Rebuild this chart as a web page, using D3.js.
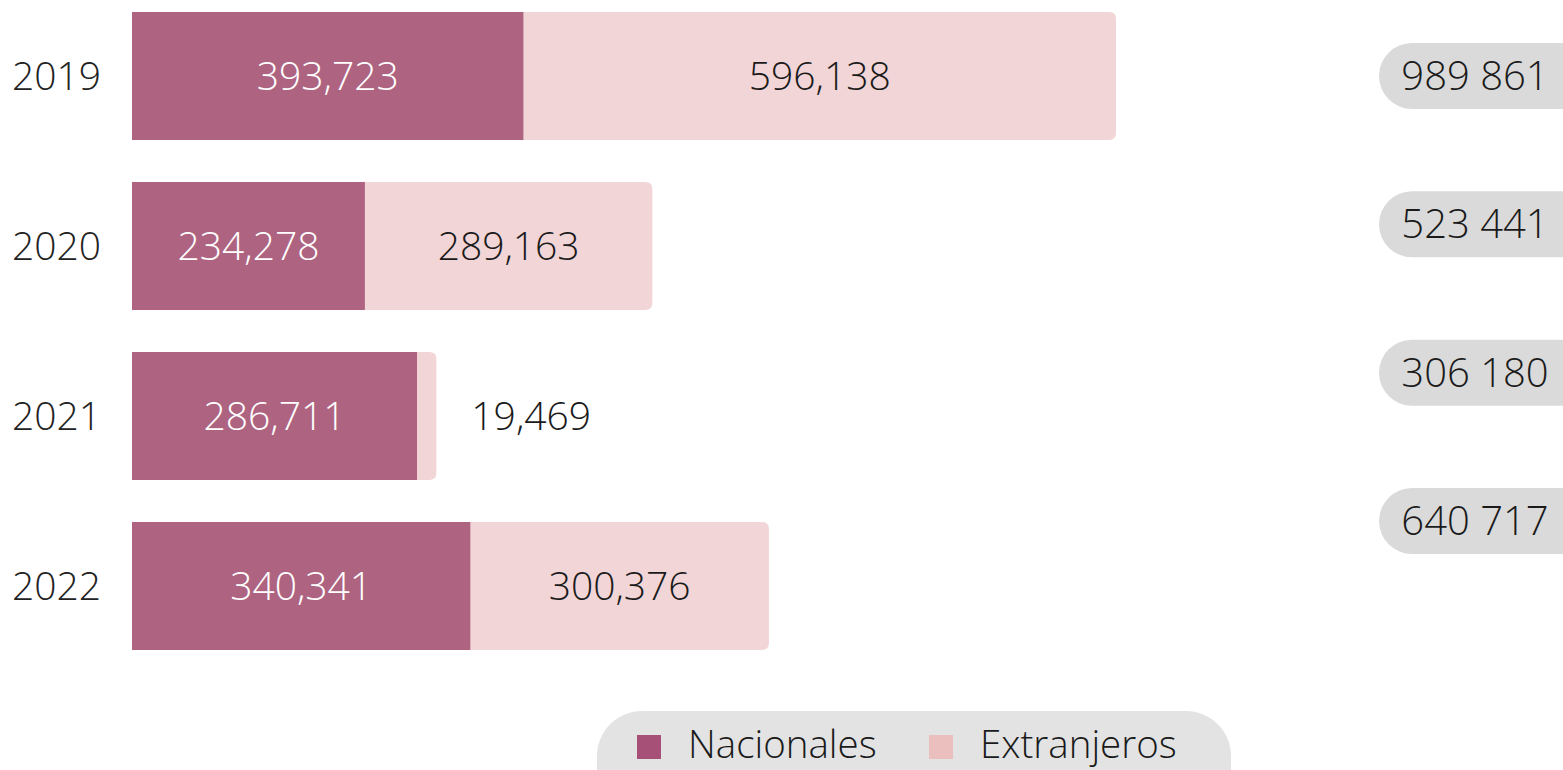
<!DOCTYPE html>
<html><head><meta charset="utf-8">
<script src="https://cdn.jsdelivr.net/npm/d3@7"></script>
<style>
html,body{margin:0;padding:0;background:#fff;overflow:hidden;}
svg{display:block;font-family:"Open Sans",sans-serif;font-weight:300;}
</style></head>
<body><svg id="c" width="1563" height="770"></svg>
<script>
const years = ["2019","2020","2021","2022"];
const nacionales = [393723, 234278, 286711, 340341];
const extranjeros = [596138, 289163, 19469, 300376];
const totals = [989861, 523441, 306180, 640717];
const seriesNames = ["Nacionales","Extranjeros"];
const barColors = ["#ae6481","#f2d5d7"];
const legendColors = ["#a65077","#ecbfbf"];

const svg = d3.select("#c");
const fmt = d3.format(",");
const fmtSpace = v => d3.format(",")(v).replace(/,/g," ");

const x = d3.scaleLinear().domain([0, d3.max(totals)]).range([132, 1116]);
const y = d3.scaleBand().domain(years).range([12, 650]).paddingInner(0.247).paddingOuter(0);
const yPill = d3.scalePoint().domain(years).range([76, 521]);

const rows = years.map((yr,i)=>({yr, n:nacionales[i], e:extranjeros[i], t:totals[i]}));

const r = 7;
function rightRounded(x0,y0,w,h,rad){
  rad = Math.min(rad, w);
  return `M${x0},${y0}H${x0+w-rad}Q${x0+w},${y0} ${x0+w},${y0+rad}V${y0+h-rad}Q${x0+w},${y0+h} ${x0+w-rad},${y0+h}H${x0}Z`;
}
svg.append("g").selectAll("path").data(rows).join("path")
  .attr("d", d => rightRounded(x(d.n)-1, y(d.yr), x(d.n+d.e)-x(d.n)+1, y.bandwidth(), r))
  .attr("fill", barColors[1]);
svg.append("g").selectAll("rect").data(rows).join("rect")
  .attr("x", x(0)).attr("y", d=>y(d.yr))
  .attr("width", d=>x(d.n)-x(0)).attr("height", y.bandwidth())
  .attr("fill", barColors[0]);

const fs = 39;
svg.append("g").selectAll("text").data(rows).join("text")
  .attr("x", 101).attr("y", d=>y(d.yr)+y.bandwidth()/2)
  .attr("dy","0.35em").attr("text-anchor","end")
  .attr("font-size", fs).attr("fill","#222").text(d=>d.yr);

svg.append("g").selectAll("text").data(rows).join("text")
  .attr("x", d=>(x(0)+x(d.n))/2).attr("y", d=>y(d.yr)+y.bandwidth()/2)
  .attr("dy","0.35em").attr("text-anchor","middle")
  .attr("font-size", fs).attr("fill","#fff").text(d=>fmt(d.n));

svg.append("g").selectAll("text").data(rows).join("text")
  .attr("x", d=>{
    const w = x(d.n+d.e)-x(d.n);
    return w < 60 ? x(d.n+d.e)+35 : (x(d.n)+x(d.n+d.e))/2;
  })
  .attr("text-anchor", d=> (x(d.n+d.e)-x(d.n))<60 ? "start":"middle")
  .attr("y", d=>y(d.yr)+y.bandwidth()/2)
  .attr("dy","0.35em")
  .attr("font-size", fs).attr("fill","#1a1a1a").text(d=>fmt(d.e));

const pg = svg.append("g");
pg.selectAll("rect").data(rows).join("rect")
  .attr("x", 1379).attr("y", d=>yPill(d.yr)-33)
  .attr("width", 230).attr("height", 66).attr("rx",33)
  .attr("fill","#dadada");
pg.selectAll("text").data(rows).join("text")
  .attr("x", 1475).attr("y", d=>yPill(d.yr))
  .attr("dy","0.35em").attr("text-anchor","middle")
  .attr("font-size", fs + 1).attr("fill","#1a1a1a").text(d=>fmtSpace(d.t));

const lg = svg.append("g");
lg.append("rect").attr("x",597).attr("y",711).attr("width",634).attr("height",110).attr("rx",45).attr("fill","#e3e3e3");
const legX = [637, 929];
seriesNames.forEach((s,i)=>{
  lg.append("rect").attr("x",legX[i]).attr("y",735).attr("width",24).attr("height",24).attr("fill",legendColors[i]);
  lg.append("text").attr("x",legX[i]+51).attr("y",745).attr("dy","0.35em")
    .attr("font-size",38.5).attr("fill","#1a1a1a").text(s);
});
</script></body></html>
